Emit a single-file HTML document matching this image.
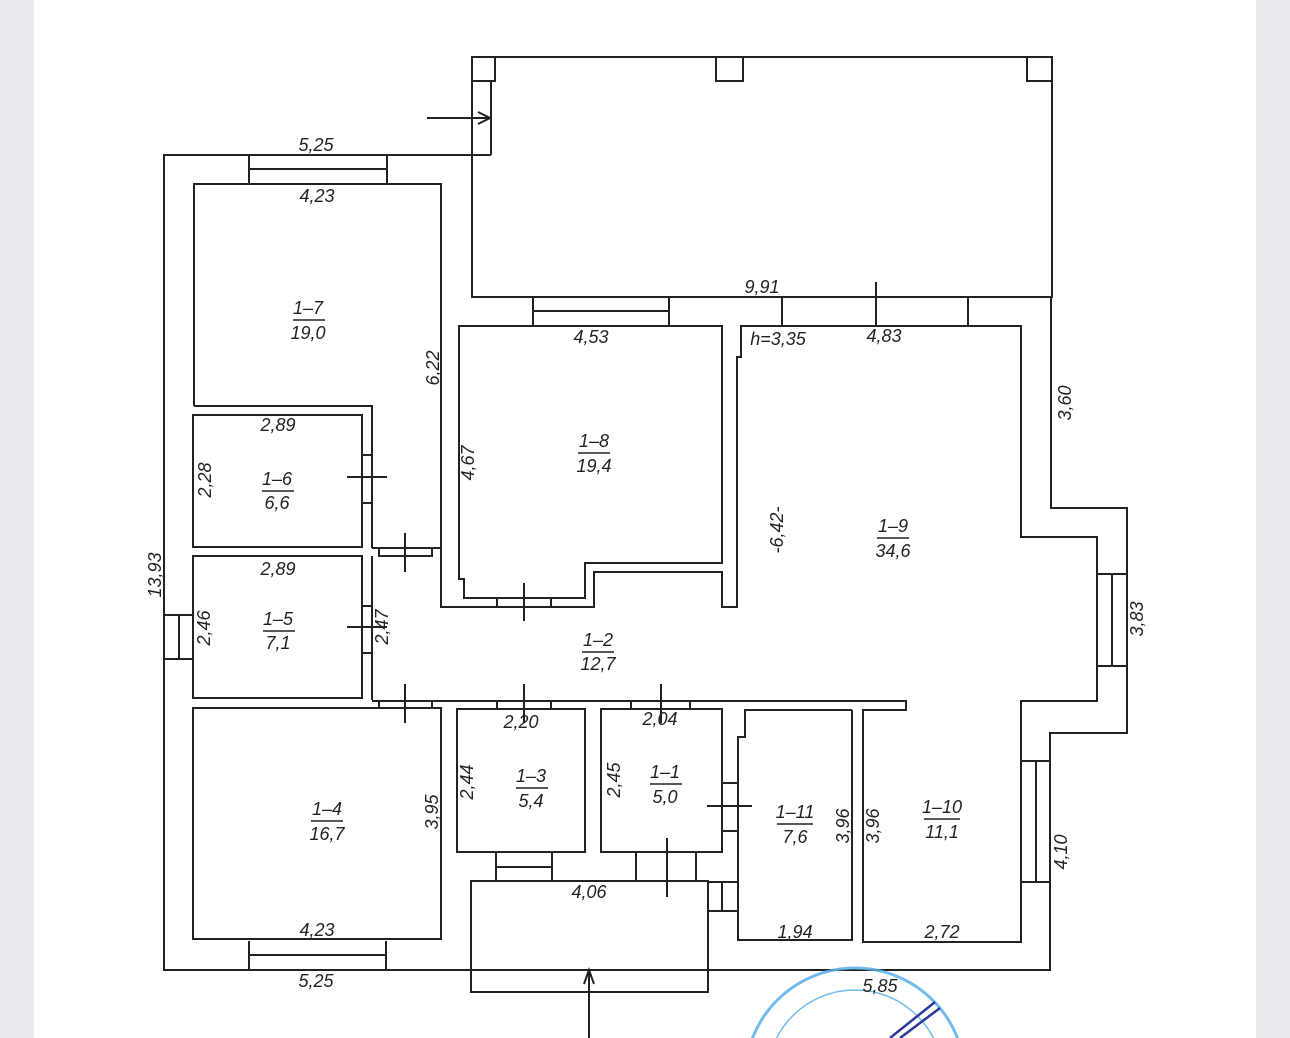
<!DOCTYPE html>
<html><head><meta charset="utf-8"><style>
html,body{margin:0;padding:0;width:1290px;height:1038px;overflow:hidden;background:#fff}
svg{display:block}
text{font-family:"Liberation Sans",sans-serif;font-style:italic;font-size:18px;fill:#222;text-anchor:middle}
</style></head><body>
<svg width="1290" height="1038" viewBox="0 0 1290 1038" xmlns="http://www.w3.org/2000/svg">
<rect x="0" y="0" width="34" height="1038" fill="#e9e9ee"/>
<rect x="1256" y="0" width="34" height="1038" fill="#e9e9ee"/>
<g fill="none" stroke="#222" stroke-width="2">
<!-- terrace -->
<rect x="472" y="57" width="580" height="240"/>
<rect x="472" y="57" width="23" height="24"/>
<rect x="716" y="57" width="27" height="24"/>
<rect x="1027" y="57" width="25" height="24"/>
<path d="M474,81 H491 V155"/>
<path d="M427,118 H490"/>
<path d="M478,112 L490,118 L478,124"/>
<!-- outer wall -->
<path d="M491,155 H164 V970 H1050 V733 H1127 V508 H1051 V297"/>
<!-- top windows -->
<path d="M249,155 V184 M387,155 V184 M249,169 H387"/>
<path d="M533,297 V326 M669,297 V326 M533,311 H669"/>
<path d="M782,297 V326 M968,297 V326 M876,282 V326"/>
<!-- left window -->
<path d="M164,615 H193 M164,659 H193 M179,615 V659"/>
<!-- bottom window -->
<path d="M249,941 V970 M386,941 V970 M249,955 H386"/>
<!-- 1-7 -->
<path d="M194,406 V184 H441 V548"/>
<path d="M194,406 H372 V548"/>
<!-- 1-6 -->
<rect x="193" y="415" width="169" height="132"/>
<path d="M362,455 H372 M362,503 H372 M347,477 H387"/>
<!-- door 1-7/corridor top -->
<path d="M372,548 H441 M379,548 V556 H432 V548 M405,533 V572"/>
<!-- 1-5 -->
<rect x="193" y="556" width="169" height="142"/>
<path d="M372,556 V700"/>
<path d="M362,606 H372 M362,653 H372 M347,627 H387"/>
<!-- 1-8 -->
<path d="M459,326 H722 V563 H585 V598 H464 V579 H459 Z"/>
<path d="M441,548 V607 H594 V572 H722 V607 H737 V357 H741 V326 H1021 V537 H1097 V701 H1021 V942 H863 V710 H906 V701 H372"/>
<path d="M497,598 V607 M551,598 V607 M524,583 V621"/>
<!-- right window -->
<path d="M1097,574 H1127 M1097,666 H1127 M1112,574 V666"/>
<!-- 1-10 window -->
<path d="M1021,761 H1050 M1021,882 H1050 M1036,761 V882"/>
<!-- 1-4 -->
<rect x="193" y="708" width="248" height="231"/>
<path d="M379,700 V708 M432,700 V708 M405,684 V723"/>
<!-- 1-3 -->
<rect x="457" y="709" width="128" height="143"/>
<path d="M497,701 V709 M551,701 V709 M524,684 V723"/>
<!-- 1-1 -->
<rect x="601" y="709" width="121" height="143"/>
<path d="M631,701 V709 M690,701 V709 M661,684 V723"/>
<path d="M496,852 V881 M552,852 V881 M496,867 H552"/>
<path d="M636,852 V881 M696,852 V881 M667,838 V897"/>
<!-- 1-11 -->
<path d="M852,710 V940 H738 V737 H745 V710 H852"/>
<path d="M722,783 H738 M722,831 H738 M707,806 H752"/>
<path d="M708,882 H738 M708,911 H738 M722,882 V911"/>
<!-- porch -->
<rect x="471" y="881" width="237" height="111"/>
<path d="M589,1038 V970"/>
<path d="M584,984 L589,970 L594,984"/>
</g>
<!-- stamp -->
<g fill="none" stroke="#5ab0e8" stroke-width="3" opacity="0.85">
<circle cx="855" cy="1078" r="110"/>
<circle cx="855" cy="1078" r="88" stroke-width="1.5"/>
</g>
<path d="M935,1002 L890,1038 M940,1008 L900,1038" stroke="#2a3a9a" stroke-width="2.5" fill="none"/>
<g>
<text x="316" y="151">5,25</text>
<text x="317" y="202">4,23</text>
<text x="308" y="314">1–7</text><text x="308" y="339">19,0</text>
<text x="591" y="343">4,53</text>
<text x="762" y="293">9,91</text>
<text x="778" y="345">h=3,35</text>
<text x="884" y="342">4,83</text>
<text x="594" y="447">1–8</text><text x="594" y="472">19,4</text>
<text x="278" y="431">2,89</text>
<text x="277" y="485">1–6</text><text x="277" y="509">6,6</text>
<text x="893" y="532">1–9</text><text x="893" y="557">34,6</text>
<text x="278" y="575">2,89</text>
<text x="278" y="625">1–5</text><text x="278" y="649">7,1</text>
<text x="598" y="646">1–2</text><text x="598" y="670">12,7</text>
<text x="521" y="728">2,20</text>
<text x="660" y="725">2,04</text>
<text x="531" y="782">1–3</text><text x="531" y="807">5,4</text>
<text x="665" y="778">1–1</text><text x="665" y="803">5,0</text>
<text x="327" y="815">1–4</text><text x="327" y="840">16,7</text>
<text x="795" y="818">1–11</text><text x="795" y="843">7,6</text>
<text x="942" y="813">1–10</text><text x="942" y="838">11,1</text>
<text x="589" y="898">4,06</text>
<text x="317" y="936">4,23</text>
<text x="795" y="938">1,94</text>
<text x="942" y="938">2,72</text>
<text x="316" y="987">5,25</text>
<text x="880" y="992">5,85</text>
<text transform="translate(439,368) rotate(-90)">6,22</text>
<text transform="translate(1071,403) rotate(-90)">3,60</text>
<text transform="translate(474,463) rotate(-90)">4,67</text>
<text transform="translate(211,480) rotate(-90)">2,28</text>
<text transform="translate(783,530) rotate(-90)">-6,42-</text>
<text transform="translate(161,575) rotate(-90)">13,93</text>
<text transform="translate(210,628) rotate(-90)">2,46</text>
<text transform="translate(388,627) rotate(-90)">2,47</text>
<text transform="translate(1143,619) rotate(-90)">3,83</text>
<text transform="translate(473,782) rotate(-90)">2,44</text>
<text transform="translate(620,780) rotate(-90)">2,45</text>
<text transform="translate(438,812) rotate(-90)">3,95</text>
<text transform="translate(849,826) rotate(-90)">3,96</text>
<text transform="translate(879,826) rotate(-90)">3,96</text>
<text transform="translate(1067,852) rotate(-90)">4,10</text>
</g>
<g stroke="#222" stroke-width="1.5">
<path d="M293,320 H325 M578,453 H610 M262,491 H294 M877,538 H909 M263,631 H295 M582,652 H614 M516,788 H548 M650,784 H682 M311,821 H343 M777,824 H813 M924,819 H960"/>
</g>
</svg>
</body></html>
